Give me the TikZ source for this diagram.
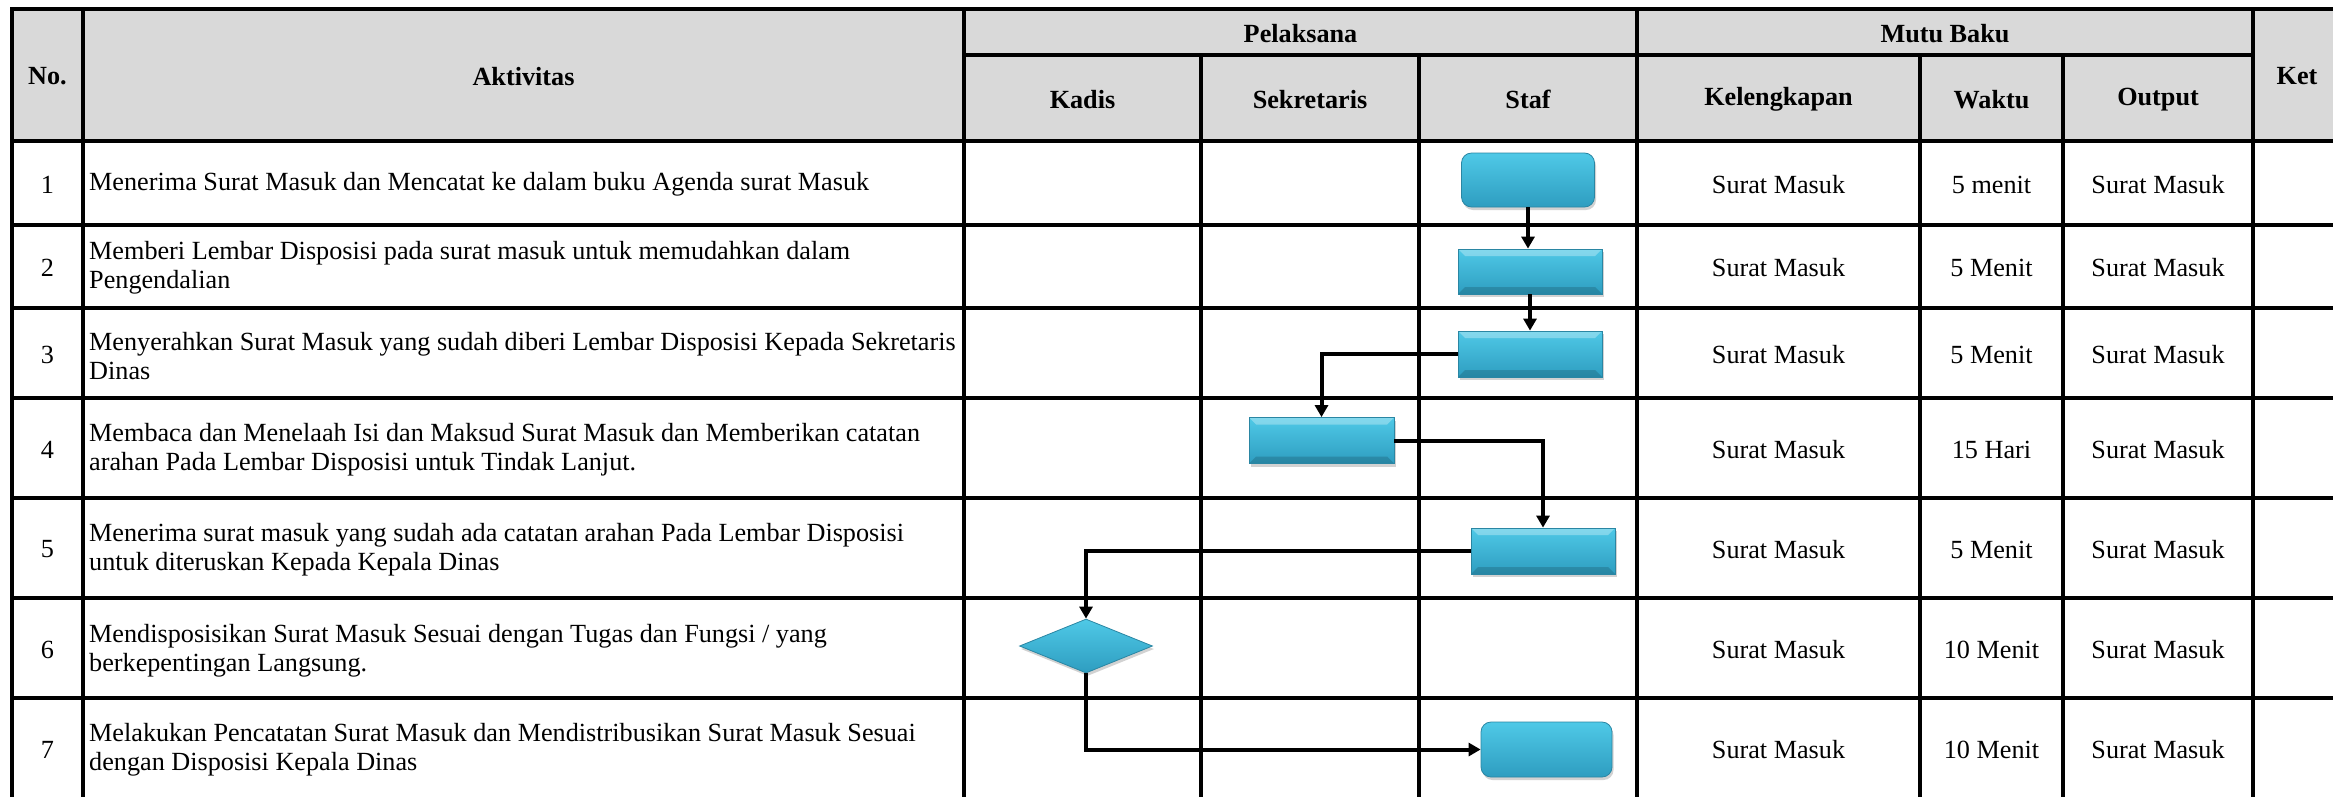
\documentclass[tikz,border=0pt]{standalone}
\usepackage{fontspec}
\setmainfont{Liberation Serif}
\usetikzlibrary{shapes.geometric,shadows,arrows.meta}
\definecolor{hdr}{HTML}{D9D9D9}
\definecolor{boxtop}{HTML}{4FC9E7}
\definecolor{boxbot}{HTML}{2E9DC0}
\definecolor{boxedge}{HTML}{2A86A3}
\begin{document}
\begin{tikzpicture}[x=1pt,y=-1pt,
  gline/.style={line width=3.1pt,line cap=rect,black},
  cell/.style={font=\fontsize{26.2}{29}\selectfont,inner sep=0pt,yshift=-1.5pt},
  hd/.style={font=\fontsize{26.2}{29}\selectfont\bfseries,inner sep=0pt,yshift=-1.5pt},
  act/.style={cell,anchor=west,align=left},
  shp/.style={draw=boxedge,line width=0.8pt,top color=boxtop,bottom color=boxbot,inner sep=0pt,
    drop shadow={opacity=0.35,shadow xshift=1.5pt,shadow yshift=-3pt}},
  bevbox/.style={shp,minimum width=144pt,minimum height=46pt,
    path picture={
      \fill[white,opacity=0.3] (path picture bounding box.north west) -- (path picture bounding box.north east)
        -- ([shift={(-7pt,-7pt)}]path picture bounding box.north east) -- ([shift={(7pt,-7pt)}]path picture bounding box.north west) -- cycle;
      \fill[black,opacity=0.15] (path picture bounding box.south west) -- (path picture bounding box.south east)
        -- ([shift={(-7pt,7pt)}]path picture bounding box.south east) -- ([shift={(7pt,7pt)}]path picture bounding box.south west) -- cycle;
    }},
  rndbox/.style={shp,rounded corners=10pt,minimum width=132pt,minimum height=54pt},
  decis/.style={shp,diamond,minimum width=133pt,minimum height=54pt},
  conn/.style={line width=4pt,black,-{Triangle[length=12pt,width=13pt]}}
]
\clip (0,0) rectangle (2333,796);
\fill[white] (0,0) rectangle (2333,796);
\fill[hdr] (12,9) rectangle (2345,141);
% grid
\draw[gline,line width=4pt] (12,9) -- (2345,9);
\draw[gline] (964,55) -- (2253,55);
\foreach \yy in {141,225,308,398,498,598,698} \draw[gline] (12,\yy) -- (2345,\yy);
\foreach \xx in {12,83,964,1637,2253} \draw[gline] (\xx,9) -- (\xx,810);
\foreach \xx in {1201,1419,1920,2063} \draw[gline] (\xx,55) -- (\xx,810);
% header
\node[hd] (hno) at (47.5,75) {No.};
\node[hd] (hakt) at (523.5,75) {Aktivitas};
\node[hd] (hpel) at (1300.5,32) {Pelaksana};
\node[hd] (hmutu) at (1945,32) {Mutu Baku};
\node[hd] (hket) at (2297,75) {Ket};
\node[hd] (hkadis) at (1082.5,98) {Kadis};
\node[hd] (hsek) at (1310,98) {Sekretaris};
\node[hd] (hstaf) at (1528,98) {Staf};
\node[hd] (hkel) at (1778.5,98) {Kelengkapan};
\node[hd] (hwak) at (1991.5,98) {Waktu};
\node[hd] (hout) at (2158,98) {Output};
% numbers
\node[cell] (n1) at (47.5,183) {1};
\node[cell] (n2) at (47.5,266.5) {2};
\node[cell] (n3) at (47.5,353) {3};
\node[cell] (n4) at (47.5,448) {4};
\node[cell] (n5) at (47.5,548) {5};
\node[cell] (n6) at (47.5,648) {6};
\node[cell] (n7) at (47.5,748) {7};
% activities
\node[act] (a1) at (89,183) {Menerima Surat Masuk dan Mencatat ke dalam buku Agenda surat Masuk};
\node[act] (a2) at (89,266.5) {Memberi Lembar Disposisi pada surat masuk untuk memudahkan dalam\\Pengendalian};
\node[act] (a3) at (89,355) {Menyerahkan Surat Masuk yang sudah diberi Lembar Disposisi Kepada Sekretaris\\Dinas};
\node[act] (a4) at (89,448) {Membaca dan Menelaah Isi dan Maksud Surat Masuk dan Memberikan catatan\\arahan Pada Lembar Disposisi untuk Tindak Lanjut.};
\node[act] (a5) at (89,548) {Menerima surat masuk yang sudah ada catatan arahan Pada Lembar Disposisi\\untuk diteruskan Kepada Kepala Dinas};
\node[act] (a6) at (89,649) {Mendisposisikan Surat Masuk Sesuai dengan Tugas dan Fungsi / yang\\berkepentingan Langsung.};
\node[act] (a7) at (89,748) {Melakukan Pencatatan Surat Masuk dan Mendistribusikan Surat Masuk Sesuai\\dengan Disposisi Kepala Dinas};
% mutu baku
\foreach \i/\yy/\ww in {1/183/5 menit,2/266.5/5 Menit,3/353/5 Menit,4/448/15 Hari,5/548/5 Menit,6/648/10 Menit,7/748/10 Menit}{
  \node[cell] (k\i) at (1778.5,\yy) {Surat Masuk};
  \node[cell] (w\i) at (1991.5,\yy) {\ww};
  \node[cell] (o\i) at (2158,\yy) {Surat Masuk};
}
% shapes
\node[rndbox,minimum width=133pt] (b1) at (1528,180) {};
\node[bevbox,minimum height=45pt] (b2) at (1530,271.5) {};
\node[bevbox] (b3) at (1530,354) {};
\node[bevbox,minimum width=145pt] (b4) at (1321.5,440.5) {};
\node[bevbox] (b5) at (1543,551) {};
\node[decis] (d6) at (1086,646) {};
\node[rndbox,minimum width=131pt,minimum height=55pt] (b7) at (1546.5,749.5) {};
% connectors
\draw[conn] (b1.south) -- (b1.south |- b2.north);
\draw[conn] (b2.south) -- (b3.north);
\draw[conn] (b3.west) -| (b4.north);
\draw[conn] (b4.east) -| (b5.north);
\draw[conn] (b5.west) -| (d6.north);
\draw[conn] (d6.south) |- (b7.west);
\end{tikzpicture}
\end{document}
